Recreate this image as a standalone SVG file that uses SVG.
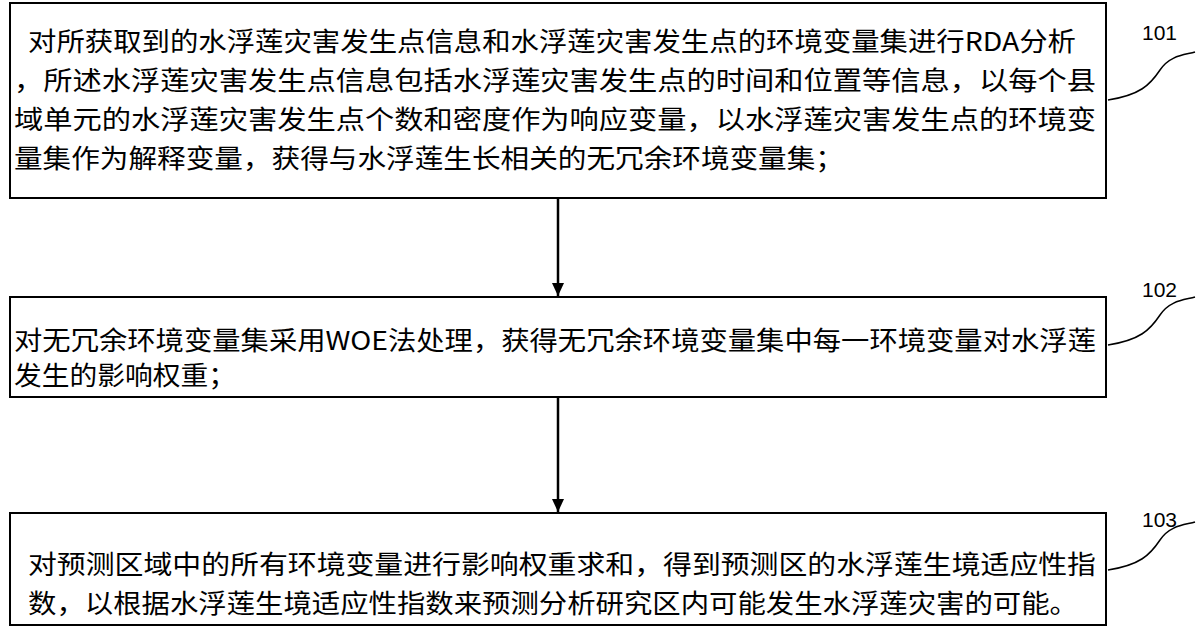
<svg xmlns="http://www.w3.org/2000/svg" width="1200" height="642" viewBox="0 0 1200 642">
<style>
.b{fill:#fff;stroke:#000;stroke-width:2}
.t{font-family:"Noto Sans CJK SC","Liberation Sans",sans-serif;font-size:26px;fill:#000}
.n{font-family:"Liberation Sans",sans-serif;font-size:21px;fill:#000}
.c{fill:none;stroke:#000;stroke-width:1.5}
</style>
<defs><marker id="a" markerWidth="14" markerHeight="14" refX="13" refY="6" orient="auto" markerUnits="userSpaceOnUse"><path d="M0,0L13,6L0,12z" fill="#000"/></marker></defs>
<rect width="1200" height="642" fill="#fff"/>
<g id="n101">
<rect class="b" x="10" y="3" width="1096" height="195"/>
<text class="t" x="28" y="51" textLength="1048" lengthAdjust="spacingAndGlyphs">对所获取到的水浮莲灾害发生点信息和水浮莲灾害发生点的环境变量集进行RDA分析</text>
<text class="t" x="14" y="90" textLength="1082" lengthAdjust="spacingAndGlyphs">，所述水浮莲灾害发生点信息包括水浮莲灾害发生点的时间和位置等信息，以每个县</text>
<text class="t" x="14" y="129" textLength="1082" lengthAdjust="spacingAndGlyphs">域单元的水浮莲灾害发生点个数和密度作为响应变量，以水浮莲灾害发生点的环境变</text>
<text class="t" x="14" y="168" textLength="830" lengthAdjust="spacingAndGlyphs">量集作为解释变量，获得与水浮莲生长相关的无冗余环境变量集；</text>
</g>
<g id="n102">
<rect class="b" x="10" y="297" width="1096" height="100"/>
<text class="t" x="14" y="350" textLength="1082" lengthAdjust="spacingAndGlyphs">对无冗余环境变量集采用WOE法处理，获得无冗余环境变量集中每一环境变量对水浮莲</text>
<text class="t" x="14" y="385" textLength="222" lengthAdjust="spacingAndGlyphs">发生的影响权重；</text>
</g>
<g id="n103">
<rect class="b" x="10" y="513" width="1096" height="112"/>
<text class="t" x="28" y="574" textLength="1068" lengthAdjust="spacingAndGlyphs">对预测区域中的所有环境变量进行影响权重求和，得到预测区的水浮莲生境适应性指</text>
<text class="t" x="28" y="613" textLength="1050" lengthAdjust="spacingAndGlyphs">数，以根据水浮莲生境适应性指数来预测分析研究区内可能发生水浮莲灾害的可能。</text>
</g>
<g id="labels">
<text class="n" x="1142" y="40">101</text>
<text class="n" x="1142" y="297">102</text>
<text class="n" x="1142" y="527">103</text>
<path class="c" d="M1108,100 C1140,95 1150,85 1160,70 C1170,55 1185,55 1195,52"/>
<path class="c" d="M1108,345 C1140,340 1150,330 1160,315 C1170,300 1185,300 1195,297"/>
<path class="c" d="M1108,570 C1140,565 1150,555 1160,540 C1170,525 1185,525 1195,522"/>
</g>
<g id="connectors">
<line x1="558" y1="198" x2="558" y2="296" stroke="#000" stroke-width="2.5" marker-end="url(#a)"/>
<line x1="558" y1="397" x2="558" y2="512" stroke="#000" stroke-width="2.5" marker-end="url(#a)"/>
</g>
</svg>
